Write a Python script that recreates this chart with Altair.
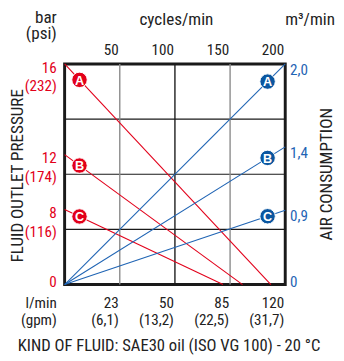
import altair as alt
import pandas as pd

# ---- data ----
series = ["A", "B", "C"]
# plotted start of the red (pressure) lines at 0 cycles/min, in bar-scale position
red_start = [16.0, 9.42, 5.45]
# cycles/min where each red line reaches 0
red_end_cycles = [187.0, 161.3, 143.6]
# plotted end of the blue (air) lines at 200 cycles/min, in m3/min-scale position
blue_end = [2.0, 1.248, 0.673]

pressure_labels = ["16", "12", "8"]
psi_labels = ["(232)", "(174)", "(116)"]
air_labels = ["2,0", "1,4", "0,9"]
cycle_ticks = [50, 100, 150, 200]
flow_lpm = ["23", "50", "85", "120"]
flow_gpm = ["(6,1)", "(13,2)", "(22,5)", "(31,7)"]
hgrid = [4, 8, 12]
vgrid = [50, 100, 150]
vgrid_color = ["#8a8a8a", "#1a1a1a", "#8a8a8a"]

P_MAX = 16.0
AIR_MAX = 2.0
C_MAX = 200.0
air_to_p = P_MAX / AIR_MAX

RED = "#e2001a"
BLUE = "#1f64b4"
BLUE_BADGE = "#0a56a0"
DARK = "#222222"
FONT = "Liberation Sans Narrow, Roboto Condensed, DejaVu Sans Condensed, sans-serif"

xs = alt.Scale(domain=[0, C_MAX], nice=False, zero=False)
ys = alt.Scale(domain=[0, P_MAX], nice=False, zero=False)

def X(f):
    return alt.X(f, type="quantitative", scale=xs, axis=None)

def Y(f):
    return alt.Y(f, type="quantitative", scale=ys, axis=None)

# ---- tables ----
red = pd.DataFrame({"s": series, "x0": 0.0, "y0": red_start,
                    "x1": red_end_cycles, "y1": 0.0})
blue = pd.DataFrame({"s": series, "x0": 0.0, "y0": 0.0, "x1": C_MAX,
                     "y1": [v * air_to_p for v in blue_end]})

bx_red = 13.5
bx_blue = 184.0
badges_red = pd.DataFrame({"s": series, "x": bx_red,
                           "y": [s * (1 - bx_red / e) for s, e in zip(red_start, red_end_cycles)]})
badges_blue = pd.DataFrame({"s": series, "x": bx_blue,
                            "y": [v * air_to_p * bx_blue / C_MAX for v in blue_end]})

hg = pd.DataFrame({"y": hgrid, "x0": 0.0, "x1": C_MAX})
vg = pd.DataFrame({"x": vgrid, "y0": 0.0, "y1": P_MAX, "c": vgrid_color})

left_main = pd.DataFrame({"y": red_start, "t": pressure_labels})
left_psi = pd.DataFrame({"y": red_start, "t": psi_labels})
zero_lab = pd.DataFrame({"y": [0.0], "t": ["0"]})
right_main = pd.DataFrame({"y": [v * air_to_p for v in blue_end], "t": air_labels})
top_lab = pd.DataFrame({"x": cycle_ticks, "t": [str(c) for c in cycle_ticks]})
bot_lab = pd.DataFrame({"x": cycle_ticks, "a": flow_lpm, "b": flow_gpm})

# ---- layers ----
hgrid_l = alt.Chart(hg).mark_rule(color="#1a1a1a", strokeWidth=1.2).encode(
    x=X("x0"), x2="x1", y=Y("y"))
vgrid_l = alt.Chart(vg).mark_rule(strokeWidth=1.4).encode(
    x=X("x"), y=Y("y0"), y2="y1", color=alt.Color("c:N", scale=None))
red_l = alt.Chart(red).mark_rule(color=RED, strokeWidth=1.1).encode(
    x=X("x0"), x2="x1", y=Y("y0"), y2="y1")
blue_l = alt.Chart(blue).mark_rule(color=BLUE, strokeWidth=1.1).encode(
    x=X("x0"), x2="x1", y=Y("y0"), y2="y1")

def badge(df, col):
    c = alt.Chart(df).mark_point(filled=True, shape="circle", size=250, fill=col,
                                 stroke="white", strokeWidth=1, opacity=1).encode(
        x=X("x"), y=Y("y"))
    t = alt.Chart(df).mark_text(color="white", fontWeight="bold", fontSize=13,
                                font="Liberation Sans, Arial, sans-serif",
                                baseline="middle", align="center", dy=1).encode(
        x=X("x"), y=Y("y"), text="s:N")
    return c + t

def side_text(df, color, px, dy, align):
    return alt.Chart(df).mark_text(color=color, fontSize=15.5, font=FONT,
                                   align=align, baseline="middle", dy=dy).encode(
        x=alt.value(px), y=Y("y"), text="t:N")

left_l = (side_text(left_main, RED, -8, 4, "right")
          + side_text(left_psi, RED, -8, 23, "right")
          + side_text(zero_lab, RED, -8, -2, "right"))
right_l = (side_text(right_main, BLUE, 231, 6, "left")
           + side_text(zero_lab, BLUE, 231, -2, "left"))

top_l = alt.Chart(top_lab).mark_text(color=DARK, fontSize=15.5, font=FONT,
                                     align="right", baseline="alphabetic", dx=-1).encode(
    x=X("x"), y=alt.value(-9), text="t:N")
bot_a = alt.Chart(bot_lab).mark_text(color=DARK, fontSize=15.5, font=FONT,
                                     align="right", baseline="middle", dx=-1).encode(
    x=X("x"), y=alt.value(245), text="a:N")
bot_b = alt.Chart(bot_lab).mark_text(color=DARK, fontSize=15.5, font=FONT,
                                     align="right", baseline="middle", dx=-1).encode(
    x=X("x"), y=alt.value(262), text="b:N")

def label(text, px, py, size=17.5, align="center", baseline="middle", angle=0, color=DARK):
    return alt.Chart(pd.DataFrame({"t": [text]})).mark_text(
        fontSize=size, font=FONT, align=align, baseline=baseline, angle=angle,
        color=color).encode(x=alt.value(px), y=alt.value(py), text="t:N")

titles = (
    label("bar", -8, -42, align="right", baseline="alphabetic")
    + label("(psi)", -8, -26, align="right", baseline="alphabetic")
    + label("cycles/min", 114.5, -40, baseline="alphabetic")
    + label("m³/min", 277, -40, align="right", baseline="alphabetic")
    + label("FLUID OUTLET PRESSURE", -48, 114.5, angle=270)
    + label("AIR CONSUMPTION", 269, 113, angle=270)
    + label("l/min", -8, 245, size=15.5, align="right")
    + label("(gpm)", -8, 262, size=15.5, align="right")
    + label("KIND OF FLUID: SAE30 oil (ISO VG 100) - 20 °C", 107, 289, size=17)
)

chart = alt.layer(
    hgrid_l, vgrid_l, red_l, blue_l,
    badge(badges_red, RED), badge(badges_blue, BLUE_BADGE),
    left_l, right_l, top_l, bot_a, bot_b, titles,
).properties(
    width=226, height=226,
    autosize=alt.AutoSizeParams(type="none"),
    padding={"left": 58, "top": 53, "right": 52, "bottom": 74},
).configure_view(stroke="#1a1a1a", strokeWidth=3)

chart.save("out.html", embed_options={"renderer": "svg", "actions": False})
